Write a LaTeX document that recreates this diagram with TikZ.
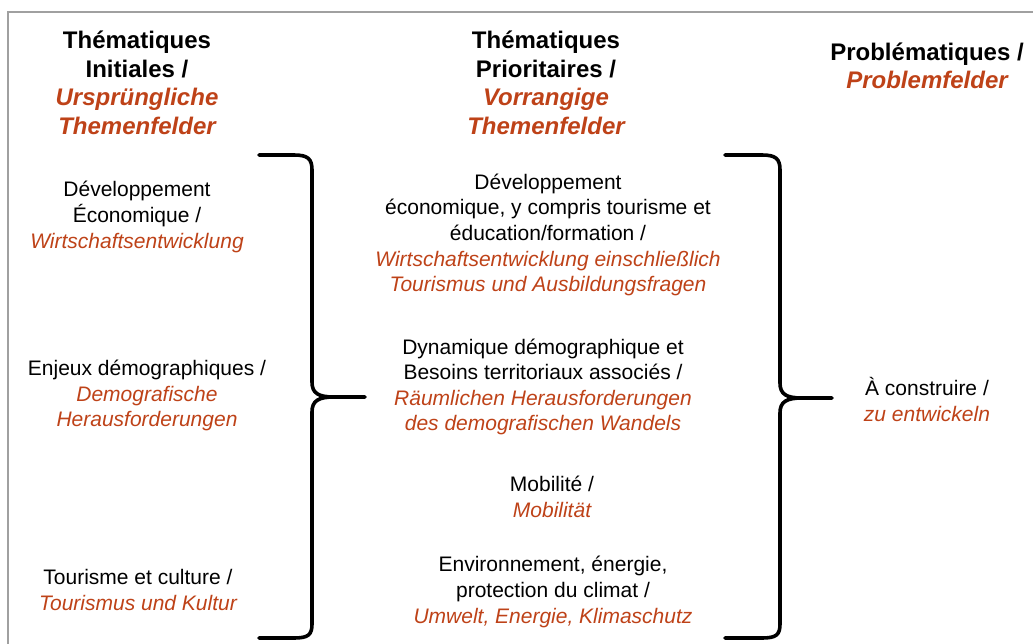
\documentclass[tikz,border=0pt]{standalone}
\usepackage{fontspec}
\setmainfont{Liberation Sans}
\definecolor{dered}{RGB}{190,66,24}
\definecolor{framegray}{RGB}{160,160,160}
\tikzset{
  body/.style={inner sep=0pt, align=center, font=\fontsize{21}{25.6}\selectfont},
  head/.style={inner sep=0pt, align=center, font=\fontsize{24}{28.6}\selectfont\bfseries},
  brace/.style={line width=3.6pt, line cap=round, line join=round},
}
\newcommand{\de}[1]{\textcolor{dered}{\itshape #1}}
\begin{document}
\begin{tikzpicture}[x=1pt,y=-1pt]
\useasboundingbox (0,0) rectangle (1033,643);
% frame
\draw[framegray, line width=2pt] (8,650) -- (8,12) -- (1040,12);
% headers
\node[head] (h1) at (137,83) {Thématiques\\Initiales /\\\de{Ursprüngliche}\\\de{Themenfelder}};
\node[head] (h2) at (546,83) {Thématiques\\Prioritaires /\\\de{Vorrangige}\\\de{Themenfelder}};
\node[head] (h3) at (927,66) {Problématiques /\\\de{Problemfelder}};
% left column
\node[body] (l1) at (137,217) {Développement\\Économique /\\\de{Wirtschaftsentwicklung}};
\node[body] (l2) at (147,395.5) {Enjeux démographiques /\\\de{Demografische}\\\de{Herausforderungen}};
\node[body] (l3) at (138,590) {Tourisme et culture /\\\de{Tourismus und Kultur}};
% middle column
\node[body] (m1) at (548,235) {Développement\\économique, y compris tourisme et\\éducation/formation /\\\de{Wirtschaftsentwicklung einschließlich}\\\de{Tourismus und Ausbildungsfragen}};
\node[body] (m2) at (543,387) {Dynamique démographique et\\Besoins territoriaux associés /\\\de{Räumlichen Herausforderungen}\\\de{des demografischen Wandels}};
\node[body] (m3) at (552,497) {Mobilité /\\\de{Mobilität}};
\node[body] (m4) at (553,592) {Environnement, énergie,\\protection du climat /\\\de{Umwelt, Energie, Klimaschutz}};
% right column
\node[body] (r1) at (927,399.5) {À construire /\\\de{zu entwickeln}};
% braces
\draw[brace] (259,155) -- (294,155) .. controls (308,155) and (312,159) .. (312,170)
  -- (312,382) .. controls (312,393) and (318,397) .. (334,397) -- (365,397);
\draw[brace] (334,397) .. controls (318,397) and (312,401) .. (312,412)
  -- (312,624) .. controls (312,635) and (308,638) .. (294,638) -- (259,638);
\draw[brace] (725,155) -- (762,155) .. controls (776,155) and (780,159) .. (780,170)
  -- (780,383) .. controls (780,394) and (786,398) .. (802,398) -- (832,398);
\draw[brace] (802,398) .. controls (786,398) and (780,402) .. (780,413)
  -- (780,624) .. controls (780,635) and (776,638) .. (762,638) -- (725,638);
\end{tikzpicture}
\end{document}
